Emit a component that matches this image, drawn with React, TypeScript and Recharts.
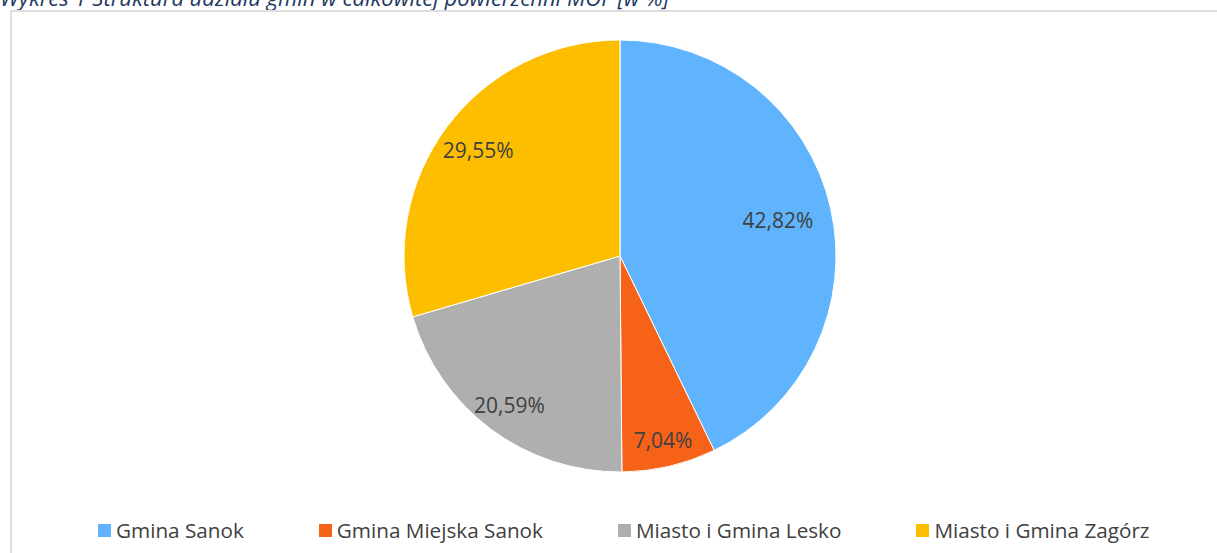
import React from 'react';
import { PieChart, Pie, Cell, Legend } from 'recharts';

const gminy = ['Gmina Sanok', 'Gmina Miejska Sanok', 'Miasto i Gmina Lesko', 'Miasto i Gmina Zagórz'];
const udzial = [42.82, 7.04, 20.59, 29.55];
const kolory = ['#5fb4fd', '#f76219', '#afafaf', '#fdbe00'];

const data = gminy.map((name, i) => ({ name, value: udzial[i] }));

// how far out (fraction of radius) each label sits, like Excel's best fit
const labelPos = [0.75, 0.875, 0.86, 0.82];

const RAD = Math.PI / 180;
const fmt = (v: number) => v.toFixed(2).replace('.', ',') + '%';

const renderLabel = (props: any) => {
  const { cx, cy, midAngle, outerRadius, index, value } = props;
  const r = outerRadius * labelPos[index];
  const x = cx + r * Math.cos(-midAngle * RAD);
  const y = cy + r * Math.sin(-midAngle * RAD);
  return (
    <text
      x={x}
      y={y}
      fill="#404040"
      textAnchor="middle"
      dominantBaseline="central"
      style={{ fontFamily: '"Open Sans", sans-serif', fontSize: 21 }}
    >
      {fmt(value)}
    </text>
  );
};

const renderLegend = () => (
  <div style={{ display: 'flex', gap: 75, paddingLeft: 98, alignItems: 'center' }}>
    {gminy.map((g, i) => (
      <div key={g} style={{ display: 'flex', alignItems: 'center' }}>
        <span style={{ width: 13, height: 13, background: kolory[i], marginRight: 5, marginTop: 1 }} />
        <span style={{ fontFamily: '"Open Sans", sans-serif', fontSize: 20.7, lineHeight: '20px', color: '#404040' }}>{g}</span>
      </div>
    ))}
  </div>
);

const App: React.FC = () => {
  return (
    <div style={{ position: 'absolute', left: 0, top: 0, width: 1217, height: 553, overflow: 'hidden', background: '#fff' }}>
      <div
        style={{
          position: 'absolute',
          left: 0,
          top: -14,
          fontFamily: '"Open Sans", sans-serif',
          fontStyle: 'italic',
          fontSize: 22,
          lineHeight: '22px',
          color: '#1f3864',
          whiteSpace: 'nowrap',
        }}
      >
        Wykres 1 Struktura udziału gmin w całkowitej powierzchni MOF [w %]
      </div>
      <div
        style={{
          position: 'absolute',
          left: 10,
          top: 10,
          width: 1240,
          height: 600,
          border: '2px solid #dedede',
          boxSizing: 'border-box',
        }}
      />
      <div style={{ position: 'absolute', left: 0, top: 0 }}>
        <PieChart width={1217} height={553} margin={{ top: 0, right: 0, bottom: 0, left: 0 }}>
          <Pie
            data={data}
            dataKey="value"
            nameKey="name"
            cx={620}
            cy={256}
            outerRadius={216}
            startAngle={90}
            endAngle={-270}
            stroke="#ffffff"
            strokeWidth={1}
            label={renderLabel}
            labelLine={false}
            isAnimationActive={false}
          >
            {data.map((d, i) => (
              <Cell key={d.name} fill={kolory[i]} />
            ))}
          </Pie>
          <Legend
            content={renderLegend}
            wrapperStyle={{ position: 'absolute', left: 0, top: 520, width: 1217 }}
          />
        </PieChart>
      </div>
    </div>
  );
};

export default App;
